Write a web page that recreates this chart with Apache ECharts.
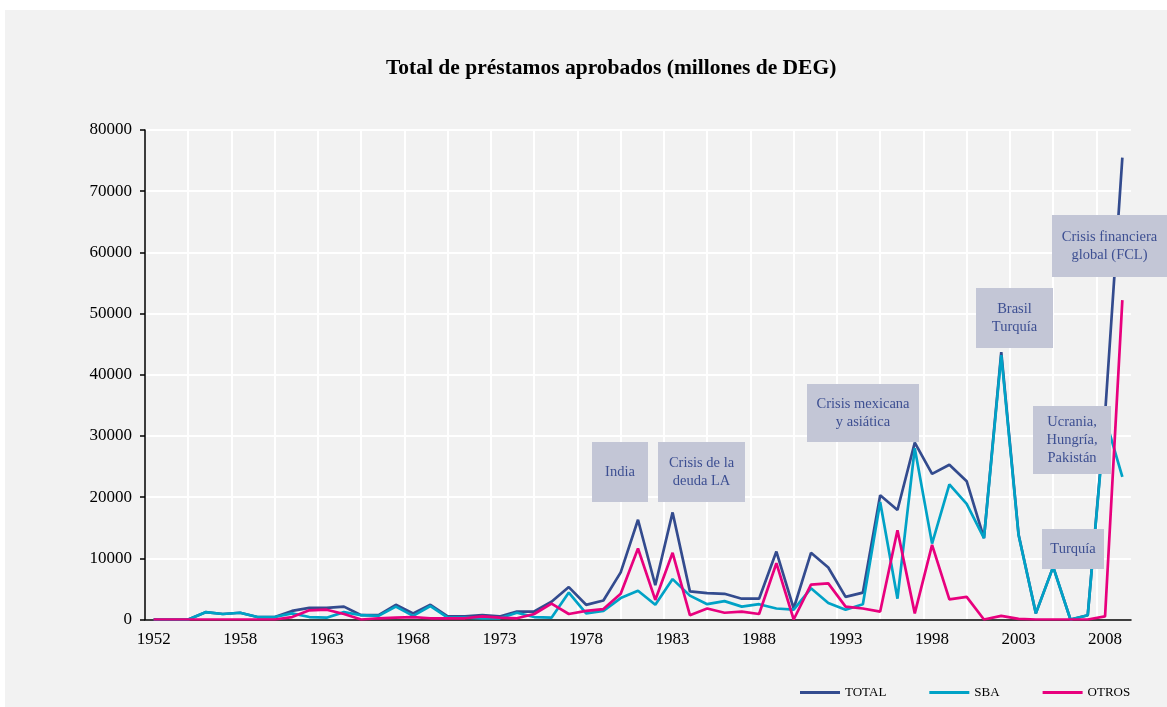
<!DOCTYPE html>
<html>
<head>
<meta charset="utf-8">
<script src="https://cdn.jsdelivr.net/npm/echarts@6.0.0/dist/echarts.min.js"></script>
<style>
  html, body { margin: 0; padding: 0; background: #ffffff; }
  #chart { position: absolute; left: 5px; top: 10px; width: 1162px; height: 697px; }
</style>
</head>
<body>
<div id="chart"></div>
<script>
// años (no hay dato para 1953)
const years = ['1952', '1954', '1955', '1956', '1957', '1958', '1959', '1960', '1961', '1962',
  '1963', '1964', '1965', '1966', '1967', '1968', '1969', '1970', '1971', '1972',
  '1973', '1974', '1975', '1976', '1977', '1978', '1979', '1980', '1981', '1982',
  '1983', '1984', '1985', '1986', '1987', '1988', '1989', '1990', '1991', '1992',
  '1993', '1994', '1995', '1996', '1997', '1998', '1999', '2000', '2001', '2002',
  '2003', '2004', '2005', '2006', '2007', '2008', '2009']

const total = [0, 0, 0, 1200, 900, 1100, 400, 400, 1400, 1900,
  1900, 2100, 700, 700, 2400, 1000, 2400, 500, 500, 700,
  500, 1300, 1300, 2900, 5300, 2400, 3100, 7700, 16300, 5600,
  17500, 4600, 4300, 4200, 3400, 3400, 11100, 1800, 10900, 8500,
  3700, 4400, 20300, 17900, 28900, 23800, 25300, 22600, 13300, 43700,
  13900, 1000, 8600, 0, 700, 33500, 75500]

const sba = [0, 0, 0, 1200, 900, 1100, 400, 400, 1000, 400,
  300, 1200, 700, 600, 2100, 600, 2200, 300, 300, 200,
  200, 1100, 400, 300, 4400, 1000, 1400, 3500, 4700, 2400,
  6600, 3900, 2500, 3000, 2100, 2500, 1800, 1600, 5100, 2700,
  1600, 2500, 19200, 3400, 28000, 12400, 22100, 18900, 13300, 43200,
  13800, 1000, 8600, 0, 700, 33000, 23300]

const otros = [0, 0, 0, 0, 0, 0, 0, 0, 400, 1500,
  1600, 900, 0, 200, 300, 400, 200, 200, 200, 500,
  300, 200, 900, 2600, 900, 1400, 1700, 4200, 11600, 3200,
  10900, 700, 1800, 1100, 1300, 900, 9200, 0, 5700, 5900,
  2100, 1800, 1300, 14600, 1000, 12200, 3300, 3700, 0, 600,
  100, 0, 0, 0, 0, 500, 52200]

const seriesNames = ['TOTAL', 'SBA', 'OTROS']
const yTicks = { min: 0, max: 80000, step: 10000 }

const notes = [
  'India',
  'Crisis de la\ndeuda LA',
  'Crisis mexicana\ny asiática',
  'Brasil\nTurquía',
  'Crisis financiera\nglobal (FCL)',
  'Ucrania,\nHungría,\nPakistán',
  'Turquía'
]

// cajas de notas: [x, y, w, h] en px del contenedor
const noteBoxes = [
  [587, 432, 56, 60],
  [653, 432, 87, 60],
  [802, 374, 112, 58],
  [971, 278, 77, 60],
  [1047, 205, 115, 62],
  [1028, 396, 78, 68],
  [1037, 519, 62, 40]
]

const serif = '"Liberation Serif", "Times New Roman", serif'
const colors = ['#334b8e', '#00a2c6', '#e8007d']

const chart = echarts.init(document.getElementById('chart'))

const graphics = []
notes.forEach((t, i) => {
  const [x, y, w, h] = noteBoxes[i]
  graphics.push({
    type: 'rect', z: 100,
    shape: { x: x, y: y, width: w, height: h },
    style: { fill: '#c3c6d6' }
  })
  graphics.push({
    type: 'text', z: 101,
    x: x + w / 2, y: y + h / 2,
    style: {
      text: t, fill: '#3d4f92', font: '14.5px ' + serif,
      align: 'center', verticalAlign: 'middle', lineHeight: 18
    }
  })
})

chart.setOption({
  animation: false,
  backgroundColor: '#f2f2f2',
  title: {
    text: 'Total de préstamos aprobados (millones de DEG)',
    left: 381, top: 47, padding: 0,
    textStyle: { fontFamily: serif, fontWeight: 'bold', fontSize: 21.5, color: '#000' }
  },
  legend: {
    data: seriesNames,
    left: 795, top: 676, padding: 0,
    icon: 'rect', itemWidth: 40, itemHeight: 3, itemGap: 43,
    textStyle: { fontFamily: serif, fontSize: 13, color: '#000' }
  },
  grid: { left: 140, top: 120, width: 986, bottom: 87.5, containLabel: false },
  xAxis: [
    {
      type: 'category', data: years, boundaryGap: true,
      axisLine: { lineStyle: { color: '#000', width: 1.5 } },
      axisTick: { interval: 4, length: 6, lineStyle: { color: '#000', width: 1.5 } },
      axisLabel: { interval: 4, margin: 12, fontFamily: serif, fontSize: 17, color: '#000' },
      splitLine: { show: false }
    },
    {
      type: 'value', min: 0, max: years.length, interval: 2.5, position: 'top',
      axisLine: { show: false }, axisTick: { show: false }, axisLabel: { show: false },
      splitLine: { show: true, showMinLine: false, showMaxLine: false, lineStyle: { color: '#ffffff', width: 2 } }
    }
  ],
  yAxis: {
    type: 'value', min: yTicks.min, max: yTicks.max, interval: yTicks.step,
    axisLine: { show: true, lineStyle: { color: '#000', width: 1.5 } },
    axisTick: { show: true, length: 5, lineStyle: { color: '#000', width: 1.5 } },
    axisLabel: { margin: 13, fontFamily: serif, fontSize: 17, color: '#000', formatter: v => String(v) },
    splitLine: { show: true, lineStyle: { color: '#ffffff', width: 2 } }
  },
  series: [
    { name: seriesNames[0], type: 'line', data: total, symbol: 'none',
      lineStyle: { color: colors[0], width: 2.7 }, itemStyle: { color: colors[0] } },
    { name: seriesNames[1], type: 'line', data: sba, symbol: 'none',
      lineStyle: { color: colors[1], width: 2.7 }, itemStyle: { color: colors[1] } },
    { name: seriesNames[2], type: 'line', data: otros, symbol: 'none',
      lineStyle: { color: colors[2], width: 2.7 }, itemStyle: { color: colors[2] } }
  ],
  graphic: graphics
})
</script>
</body>
</html>
